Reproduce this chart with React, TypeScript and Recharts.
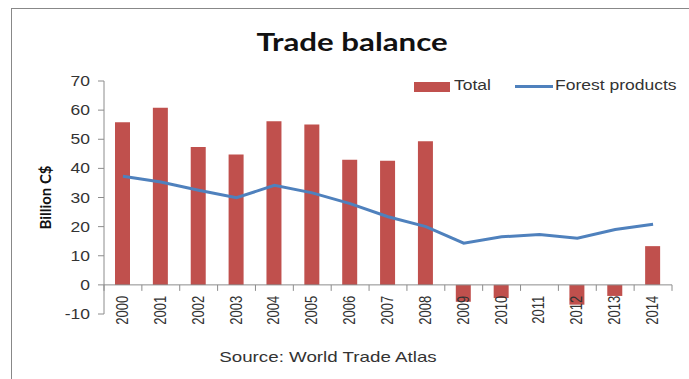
import { ComposedChart, Bar, Line, XAxis, YAxis, ReferenceLine } from "recharts";

const years = ["2000", "2001", "2002", "2003", "2004", "2005", "2006", "2007", "2008", "2009", "2010", "2011", "2012", "2013", "2014"];
const total = [55.8, 60.8, 47.3, 44.8, 56.2, 55.1, 43.0, 42.6, 49.3, -5.8, -4.5, 0, -6.8, -3.8, 13.3];
const forest = [37.3, 35.3, 32.5, 29.9, 34.2, 31.6, 27.9, 23.4, 20.0, 14.3, 16.5, 17.3, 16.0, 19.0, 20.8];
const yTicks = [-10, 0, 10, 20, 30, 40, 50, 60, 70];

const data = years.map((year, i) => ({ year, total: total[i], forest: forest[i] }));

const RED = "#C0504D";
const BLUE = "#4F81BD";
const AXIS = "#8C8C8C";
const TEXT = "#333";
const FONT = "'Liberation Sans', Arial, sans-serif";
const SX = 1.25; // the source picture is stretched sideways

const W = 689;
const H = 379;
const TOP = 81;
const XH = 65;
const YW = 104;
const RIGHT = 17;
const plotH = H - TOP - XH;
const plotW = W - YW - RIGHT;
const band = plotW / years.length;
// distance from the bottom of the plot up to the zero line
const zeroShift = (plotH * (0 - yTicks[0])) / (yTicks[yTicks.length - 1] - yTicks[0]);

function YearTick(props: any) {
  const { x, y, payload, index } = props;
  const zy = y - zeroShift;
  return (
    <g>
      <line x1={x - band / 2} x2={x - band / 2} y1={zy} y2={zy + 6} stroke={AXIS} />
      {index === years.length - 1 && (
        <line x1={x + band / 2} x2={x + band / 2} y1={zy} y2={zy + 6} stroke={AXIS} />
      )}
      <g transform={`translate(${x + 5},${zy + 11}) scale(${SX},1)`}>
        <text transform="rotate(-90)" textAnchor="end" fontSize={13} fontFamily={FONT} fill={TEXT}>
          {payload.value}
        </text>
      </g>
    </g>
  );
}

function ValueTick(props: any) {
  const { x, y, payload } = props;
  return (
    <g transform={`translate(${x - 8},${y + 5}) scale(${SX},1)`}>
      <text textAnchor="end" fontSize={14} fontFamily={FONT} fill={TEXT}>
        {payload.value}
      </text>
    </g>
  );
}

export default function App() {
  return (
    <div style={{ position: "relative", width: W, height: H, overflow: "hidden", background: "#fff" }}>
      <style>{`body{margin:0;overflow:hidden}`}</style>
      <div
        style={{
          position: "absolute",
          left: 11,
          top: 8,
          width: W,
          height: H,
          border: "1px solid #888",
        }}
      />
      <div
        style={{
          position: "absolute",
          left: 0,
          width: 704,
          top: 26,
          textAlign: "center",
          fontFamily: "Lato, sans-serif",
          fontWeight: 700,
          fontSize: 25,
          transform: `scaleX(${SX})`,
          transformOrigin: "352px 0",
          color: "#111",
        }}
      >
        Trade balance
      </div>

      {/* legend */}
      <div style={{ position: "absolute", left: 414, top: 82, width: 36, height: 10, background: RED }} />
      <div
        style={{
          position: "absolute",
          left: 454,
          top: 77,
          fontFamily: FONT,
          fontSize: 14,
          color: TEXT,
          transform: `scaleX(${SX})`,
          transformOrigin: "0 0",
        }}
      >
        Total
      </div>
      <div style={{ position: "absolute", left: 515, top: 85, width: 38, height: 3, background: BLUE }} />
      <div
        style={{
          position: "absolute",
          left: 555,
          top: 77,
          fontFamily: FONT,
          fontSize: 14,
          color: TEXT,
          transform: `scaleX(${SX})`,
          transformOrigin: "0 0",
        }}
      >
        Forest products
      </div>

      <div
        style={{
          position: "absolute",
          left: 0,
          width: 656,
          top: 348,
          textAlign: "center",
          fontFamily: FONT,
          fontSize: 15,
          color: TEXT,
          transform: `scaleX(${SX})`,
          transformOrigin: "328px 0",
        }}
      >
        Source: World Trade Atlas
      </div>

      <div style={{ position: "absolute", left: 0, top: 0 }}>
        <ComposedChart
          width={W}
          height={H}
          data={data}
          margin={{ top: TOP, right: RIGHT, bottom: 0, left: 0 }}
          barSize={15}
        >
          <XAxis
            dataKey="year"
            height={XH}
            axisLine={false}
            tickLine={false}
            tickSize={0}
            tickMargin={0}
            interval={0}
            tick={<YearTick />}
          />
          <YAxis
            width={YW}
            domain={[yTicks[0], yTicks[yTicks.length - 1]]}
            ticks={yTicks}
            interval={0}
            axisLine={{ stroke: AXIS }}
            tickLine={{ stroke: AXIS }}
            tickSize={6}
            tickMargin={0}
            tick={<ValueTick />}
            label={{
              value: "Billion C$",
              angle: -90,
              position: "insideLeft",
              offset: 46,
              style: { fontFamily: "Lato, sans-serif", fontSize: 15, fontWeight: 700, fill: "#111", textAnchor: "middle" },
            }}
          />
          <ReferenceLine y={0} stroke={AXIS} />
          <Bar dataKey="total" fill={RED} isAnimationActive={false} />
          <Line
            type="linear"
            dataKey="forest"
            stroke={BLUE}
            strokeWidth={3}
            dot={false}
            isAnimationActive={false}
          />
        </ComposedChart>
      </div>
    </div>
  );
}
